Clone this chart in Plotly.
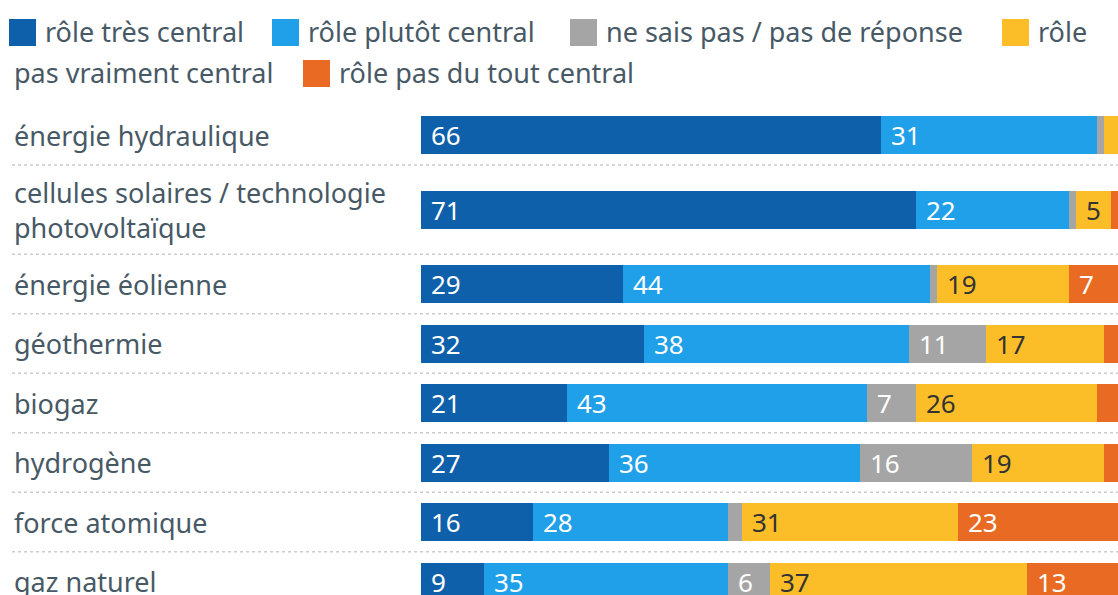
import plotly.graph_objects as go

# ---------------- data ----------------
categories = [
    "énergie hydraulique",
    "cellules solaires / technologie<br>photovoltaïque",
    "énergie éolienne",
    "géothermie",
    "biogaz",
    "hydrogène",
    "force atomique",
    "gaz naturel",
]
series_names = [
    "rôle très central",
    "rôle plutôt central",
    "ne sais pas / pas de réponse",
    "rôle pas vraiment central",
    "rôle pas du tout central",
]
tres_central = [66, 71, 29, 32, 21, 27, 16, 9]
plutot_central = [31, 22, 44, 38, 43, 36, 28, 35]
ne_sais_pas = [1, 1, 1, 11, 7, 16, 2, 6]
pas_vraiment = [2, 5, 19, 17, 26, 19, 31, 37]
pas_du_tout = [0, 1, 7, 2, 3, 2, 23, 13]

series_values = [tres_central, plutot_central, ne_sais_pas, pas_vraiment, pas_du_tout]
colors = ["#0f60aa", "#20a0e8", "#a5a5a5", "#fbbe29", "#e86a23"]
text_colors = ["#ffffff", "#ffffff", "#ffffff", "#333333", "#ffffff"]

# ---------------- layout constants ----------------
W, H = 1118, 595
ML, MR, MT, MB = 12, 0, 100, 0
BAR_LEFT_PX = 421
BAND_PX = 59.5
FIRST_BAND_TOP_PX = 105.5
FONT = "Noto Sans"
TXT = "#485966"
LABEL_SIZE = 27
NUM_SIZE = 26

plot_w = W - ML - MR
plot_h = H - MT - MB


def px_x(px):
    return (px - ML) / plot_w


def px_y(py):
    return (H - MB - py) / plot_h


# row bands (two-line labels get taller rows)
lines = [c.count("<br>") + 1 for c in categories]
heights = [1 + 0.5 * (n - 1) for n in lines]
centers, bounds = [], [0.0]
for h in heights:
    centers.append(bounds[-1] + h / 2)
    bounds.append(bounds[-1] + h)

y_top = (MT - FIRST_BAND_TOP_PX) / BAND_PX
y_bot = (H - MB - FIRST_BAND_TOP_PX) / BAND_PX

fig = go.Figure()
for name, vals, col in zip(series_names, series_values, colors):
    fig.add_trace(go.Bar(
        y=centers, x=vals, orientation="h", name=name,
        marker=dict(color=col, line=dict(width=0)),
        width=38 / BAND_PX, showlegend=False, hoverinfo="skip",
    ))

annotations = []
shapes = []

# category labels
for cat, cy in zip(categories, centers):
    annotations.append(dict(
        text=cat, xref="paper", x=0, xanchor="left", yref="y", y=cy,
        yanchor="middle", align="left", showarrow=False,
        font=dict(family=FONT, size=LABEL_SIZE, color=TXT),
    ))

# value labels
base = [0] * len(categories)
for vals, tc in zip(series_values, text_colors):
    for j, v in enumerate(vals):
        if v >= 5:
            annotations.append(dict(
                text=str(v), xref="x", x=base[j], xanchor="left", xshift=8,
                yref="y", y=centers[j], yanchor="middle", showarrow=False,
                font=dict(family=FONT, size=NUM_SIZE, color=tc),
            ))
        base[j] += v

# dotted separators
for b in bounds[1:-1]:
    shapes.append(dict(
        type="line", xref="paper", x0=0, x1=1, yref="y", y0=b, y1=b,
        line=dict(color="#cccccc", width=1.5, dash="dot"), layer="below",
    ))

# custom legend (wraps like the original)
legend_items = [
    # (square left px, square top px, text left px, text center px, text)
    (9, 19, 43, 31, series_names[0]),
    (272, 19, 306, 31, series_names[1]),
    (570, 19, 604, 31, series_names[2]),
    (1002, 19, 1036, 31, "rôle"),
    (None, None, 12, 72, "pas vraiment central"),
    (303, 60, 337, 72, series_names[4]),
]
legend_colors = [colors[0], colors[1], colors[2], colors[3], None, colors[4]]
for (sx, sy, tx, ty, t), c in zip(legend_items, legend_colors):
    if sx is not None:
        shapes.append(dict(
            type="rect", xref="paper", yref="paper",
            x0=px_x(sx), x1=px_x(sx + 27), y0=px_y(sy + 27), y1=px_y(sy),
            fillcolor=c, line=dict(width=0),
        ))
    annotations.append(dict(
        text=t, xref="paper", x=px_x(tx), xanchor="left",
        yref="paper", y=px_y(ty), yanchor="middle", showarrow=False,
        font=dict(family=FONT, size=LABEL_SIZE, color=TXT),
    ))

fig.update_layout(
    width=W, height=H,
    margin=dict(l=ML, r=MR, t=MT, b=MB, pad=0),
    barmode="stack", bargap=0,
    plot_bgcolor="white", paper_bgcolor="white",
    xaxis=dict(range=[0, 100], domain=[px_x(BAR_LEFT_PX), 1], visible=False, fixedrange=True),
    yaxis=dict(range=[y_bot, y_top], visible=False, fixedrange=True),
    annotations=annotations, shapes=shapes,
    font=dict(family=FONT, color=TXT),
)

fig.write_html(
    "out.html",
    config={"displayModeBar": False, "staticPlot": True},
    post_script="document.body.style.margin='0';document.body.style.overflow='hidden';",
)
